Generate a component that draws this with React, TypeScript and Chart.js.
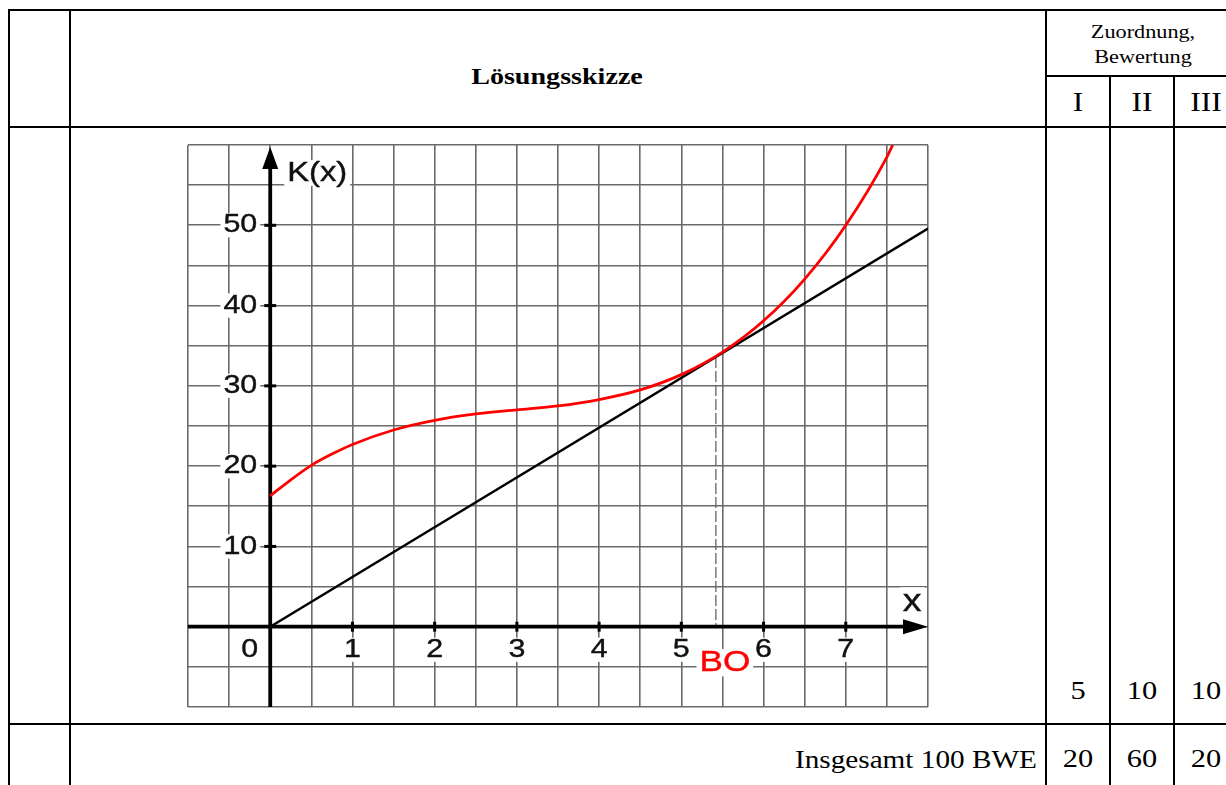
import React, { useEffect, useRef } from "react";
import { Chart, registerables } from "chart.js";

Chart.register(...registerables);

// ---- data ----
const costX = [0, 0.25, 0.5, 0.75, 1, 1.5, 2, 2.5, 3, 3.5, 4, 4.5, 5, 5.5, 6, 6.5, 7, 7.5, 7.57];
const costY = [16.3, 18.3, 20.1, 21.5, 22.7, 24.5, 25.7, 26.5, 27.0, 27.5, 28.3, 29.5, 31.4, 34.2, 38.1, 43.3, 50.0, 58.5, 60];
const revenueX = [0, 8];
const revenueY = [0, 49.6];
const xTickLabels = [1, 2, 3, 4, 5, 6, 7];
const yTickLabels = [10, 20, 30, 40, 50];
const originLabel = "0";
const breakEvenX = 5.42;
const breakEvenY = 33.6;
const breakEvenLabel = "BO";
const yAxisTitle = "K(x)";
const xAxisTitle = "x";

const headerTitle = "Lösungsskizze";
const headerGroup = ["Zuordnung,", "Bewertung"];
const levelLabels = ["I", "II", "III"];
const rowScores = ["5", "10", "10"];
const totalLabel = "Insgesamt 100 BWE";
const totalScores = ["20", "60", "20"];

const SX = 1.17;
const SANS = '"Liberation Sans", Arial, sans-serif';
const SERIF = '"Liberation Serif", "Times New Roman", serif';

function drawLabel(ctx: CanvasRenderingContext2D, text: string, px: number, py: number, size: number, color: string, align: "center" | "left" | "right") {
  ctx.save();
  ctx.font = `${size}px ${SANS}`;
  const w = ctx.measureText(text).width * SX;
  const left = align === "center" ? px - w / 2 : align === "right" ? px - w : px;
  const h = size * 0.78;
  ctx.fillStyle = "#ffffff";
  ctx.fillRect(left - 3, py - h / 2 - 2, w + 6, h + 4);
  ctx.translate(left, py);
  ctx.scale(SX, 1);
  ctx.fillStyle = color;
  ctx.strokeStyle = color;
  ctx.lineWidth = 0.4;
  ctx.textAlign = "left";
  ctx.textBaseline = "middle";
  ctx.fillText(text, 0, 0);
  ctx.strokeText(text, 0, 0);
  ctx.restore();
}

const annotPlugin = {
  id: "annot",
  beforeDatasetsDraw(chart: any) {
    const { ctx, chartArea: a, scales } = chart;
    const x = scales.x;
    const y = scales.y;
    const x0 = x.getPixelForValue(0);
    const y0 = y.getPixelForValue(0);
    ctx.save();
    // dashed break-even line
    const bx = x.getPixelForValue(breakEvenX);
    ctx.strokeStyle = "#666666";
    ctx.lineWidth = 1.3;
    ctx.setLineDash([11, 3]);
    ctx.beginPath();
    ctx.moveTo(bx, y.getPixelForValue(breakEvenY));
    ctx.lineTo(bx, y0);
    ctx.stroke();
    ctx.setLineDash([]);
    // axes
    ctx.strokeStyle = "#000";
    ctx.fillStyle = "#000";
    ctx.lineWidth = 3.8;
    ctx.beginPath();
    ctx.moveTo(a.left, y0);
    ctx.lineTo(a.right - 18, y0);
    ctx.stroke();
    ctx.beginPath();
    ctx.moveTo(a.right, y0);
    ctx.lineTo(a.right - 25, y0 - 7.5);
    ctx.lineTo(a.right - 25, y0 + 7.5);
    ctx.closePath();
    ctx.fill();
    ctx.beginPath();
    ctx.moveTo(x0, a.bottom);
    ctx.lineTo(x0, a.top + 18);
    ctx.stroke();
    ctx.beginPath();
    ctx.moveTo(x0, a.top + 2);
    ctx.lineTo(x0 - 8, a.top + 24);
    ctx.lineTo(x0 + 8, a.top + 24);
    ctx.closePath();
    ctx.fill();
    // tick marks
    ctx.lineWidth = 3;
    for (const v of xTickLabels) {
      const px = x.getPixelForValue(v);
      ctx.beginPath();
      ctx.moveTo(px, y0 - 5);
      ctx.lineTo(px, y0 + 5);
      ctx.stroke();
    }
    for (const v of yTickLabels) {
      const py = y.getPixelForValue(v);
      ctx.beginPath();
      ctx.moveTo(x0 - 6, py);
      ctx.lineTo(x0 + 6, py);
      ctx.stroke();
    }
    ctx.restore();
  },
  afterDatasetsDraw(chart: any) {
    const { ctx, chartArea: a, scales } = chart;
    const x = scales.x;
    const y = scales.y;
    const x0 = x.getPixelForValue(0);
    const y0 = y.getPixelForValue(0);
    for (const v of yTickLabels) {
      drawLabel(ctx, String(v), x0 - 13, y.getPixelForValue(v), 26, "#111", "right");
    }
    for (const v of xTickLabels) {
      drawLabel(ctx, String(v), x.getPixelForValue(v), y0 + 23, 26, "#111", "center");
    }
    drawLabel(ctx, originLabel, x.getPixelForValue(-0.25), y0 + 23, 26, "#111", "center");
    drawLabel(ctx, yAxisTitle, x0 + 17, a.top + 28, 28, "#111", "left");
    drawLabel(ctx, xAxisTitle, a.right - 16, y0 - 25, 32, "#111", "center");
    drawLabel(ctx, breakEvenLabel, x.getPixelForValue(breakEvenX) + 9, y0 + 36, 30, "#ff0000", "center");
  },
};

function ChartCanvas() {
  const ref = useRef<HTMLCanvasElement | null>(null);
  useEffect(() => {
    if (!ref.current) return;
    const chart = new Chart(ref.current, {
      type: "scatter",
      data: {
        datasets: [
          {
            label: "K(x)",
            data: costX.map((v, i) => ({ x: v, y: costY[i] })),
            showLine: true,
            borderColor: "#ff0000",
            borderWidth: 2.8,
            pointRadius: 0,
            cubicInterpolationMode: "monotone",
          },
          {
            label: "E(x)",
            data: revenueX.map((v, i) => ({ x: v, y: revenueY[i] })),
            showLine: true,
            borderColor: "#000000",
            borderWidth: 2.5,
            pointRadius: 0,
          },
        ],
      },
      options: {
        animation: false,
        responsive: false,
        events: [],
        layout: { padding: { left: 38, top: 15, right: 22, bottom: 13 } },
        plugins: { legend: { display: false }, tooltip: { enabled: false } },
        scales: {
          x: {
            type: "linear",
            min: -1,
            max: 8,
            ticks: { display: false, stepSize: 0.5 },
            grid: { color: "#6a6a6a", lineWidth: 1.6, drawTicks: false },
            border: { display: false },
          },
          y: {
            type: "linear",
            min: -10,
            max: 60,
            ticks: { display: false, stepSize: 5 },
            grid: { color: "#6a6a6a", lineWidth: 1.6, drawTicks: false },
            border: { display: false },
          },
        },
      },
      plugins: [annotPlugin],
    } as any);
    return () => chart.destroy();
  }, []);
  return (
    <canvas
      ref={ref}
      width={800}
      height={590}
      style={{ position: "absolute", left: 150, top: 130, width: 800, height: 590 }}
    />
  );
}

function HLine({ x1, x2, y }: { x1: number; x2: number; y: number }) {
  return <div style={{ position: "absolute", left: x1, top: y, width: x2 - x1, height: 2, background: "#000" }} />;
}
function VLine({ x, y1, y2 }: { x: number; y1: number; y2: number }) {
  return <div style={{ position: "absolute", left: x, top: y1, width: 2, height: y2 - y1, background: "#000" }} />;
}

function Txt({ text, x, baseline, size, bold, align }: { text: string; x: number; baseline: number; size: number; bold?: boolean; align: "center" | "right" }) {
  const top = baseline - 0.8375 * size;
  const common: any = {
    position: "absolute",
    top,
    fontFamily: SERIF,
    fontSize: size,
    lineHeight: `${size}px`,
    fontWeight: bold ? "bold" : "normal",
    whiteSpace: "nowrap",
    color: "#000",
    transform: `scaleX(${SX})`,
  };
  if (align === "center") {
    return <div style={{ ...common, left: x - 300, width: 600, textAlign: "center" }}>{text}</div>;
  }
  return <div style={{ ...common, left: x - 600, width: 600, textAlign: "right", transformOrigin: "right center" }}>{text}</div>;
}

export default function App() {
  const colCenters = [1078, 1142, 1206];
  return (
    <div style={{ position: "fixed", left: 0, top: 0, width: 1226, height: 785, overflow: "hidden", background: "#fff" }}>
      <HLine x1={8} x2={1240} y={9} />
      <HLine x1={1045} x2={1240} y={75} />
      <HLine x1={8} x2={1240} y={126} />
      <HLine x1={8} x2={1240} y={723} />
      <VLine x={8} y1={9} y2={800} />
      <VLine x={69} y1={9} y2={800} />
      <VLine x={1045} y1={9} y2={800} />
      <VLine x={1109} y1={75} y2={800} />
      <VLine x={1173} y1={75} y2={800} />
      <Txt text={headerTitle} x={557} baseline={84} size={24} bold align="center" />
      <Txt text={headerGroup[0]} x={1142.5} baseline={37.5} size={19} align="center" />
      <Txt text={headerGroup[1]} x={1142.5} baseline={62.5} size={19} align="center" />
      {levelLabels.map((t, i) => (
        <Txt key={"l" + i} text={t} x={colCenters[i]} baseline={112} size={27} align="center" />
      ))}
      {rowScores.map((t, i) => (
        <Txt key={"r" + i} text={t} x={colCenters[i]} baseline={700} size={26} align="center" />
      ))}
      <Txt text={totalLabel} x={1037} baseline={768} size={25} align="right" />
      {totalScores.map((t, i) => (
        <Txt key={"t" + i} text={t} x={colCenters[i]} baseline={768} size={26} align="center" />
      ))}
      <ChartCanvas />
    </div>
  );
}
